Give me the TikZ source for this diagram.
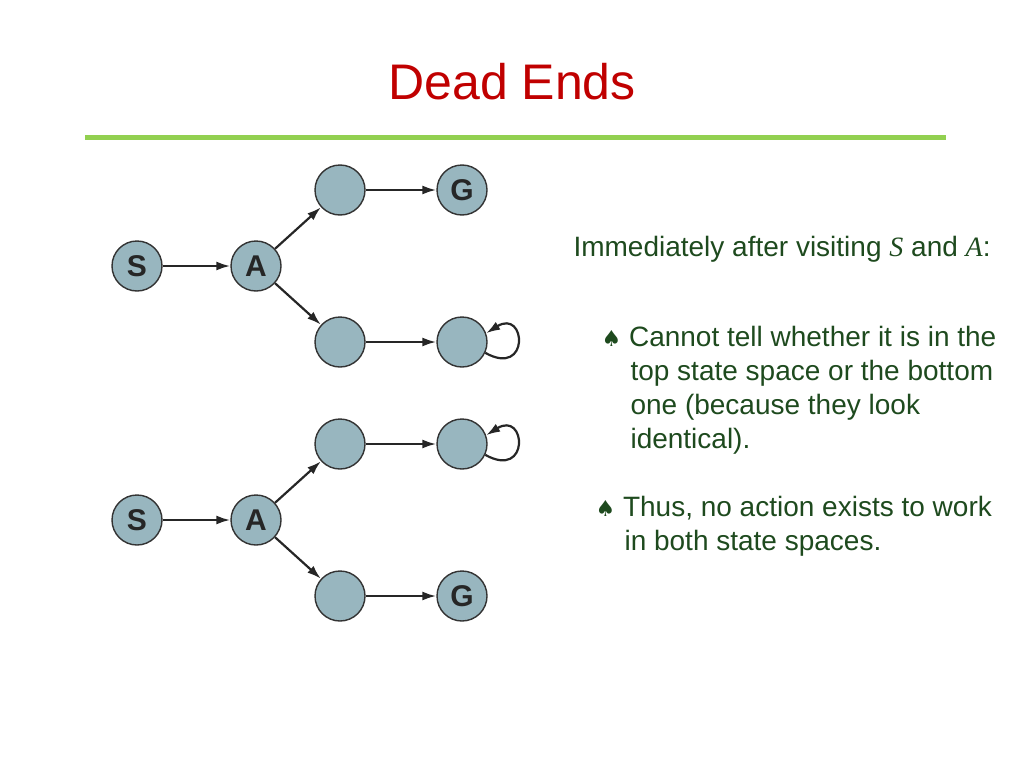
\documentclass[tikz,border=0pt]{standalone}
\usepackage{fontspec}
\setmainfont{Liberation Sans}
\newfontfamily\symf{DejaVu Sans}
\usetikzlibrary{arrows.meta}
\definecolor{nodefill}{HTML}{98B6BF}
\definecolor{txtgreen}{HTML}{1E4A1E}
\definecolor{titlered}{HTML}{C00000}
\definecolor{linegreen}{HTML}{92D050}
\begin{document}
\begin{tikzpicture}[x=1pt,y=-1pt,
  st/.style={circle,draw=black!80,line width=1.4pt,fill=nodefill,minimum size=50pt,inner sep=0pt,font=\fontsize{30}{30}\selectfont\bfseries,text=black!85},
  edge/.style={-{Latex[length=14pt,width=9pt]},line width=2.2pt,black!85},
  txt/.style={anchor=west,text=txtgreen,font=\fontsize{28}{34}\selectfont,align=left}]
\useasboundingbox (0,0) rectangle (1024,768);
\node[text=titlered,font=\fontsize{50}{50}\selectfont] (title) at (512,82) {Dead Ends};
\draw[linegreen,line width=5pt] (85,137) -- (946,137);
\foreach \o/\p in {0/a,254/b}{
  \node[st] (S\p) at (137,266+\o) {S};
  \node[st] (A\p) at (256,266+\o) {A};
  \node[st] (T\p) at (340,190+\o) {};
  \node[st] (B\p) at (340,342+\o) {};
  \node[st] (TT\p) at (462,190+\o) {};
  \node[st] (BB\p) at (462,342+\o) {};
  \draw[edge] (S\p) -- (A\p);
  \draw[edge] (A\p) -- (T\p);
  \draw[edge] (A\p) -- (B\p);
  \draw[edge] (T\p) -- (TT\p);
  \draw[edge] (B\p) -- (BB\p);
}
\node[font=\fontsize{30}{30}\selectfont\bfseries,text=black!85] (ga) at (TTa) {G};
\node[font=\fontsize{30}{30}\selectfont\bfseries,text=black!85] (gb) at (BBb) {G};
\draw[edge] (BBa.-25) .. controls +(45,25) and +(40,-25) .. (BBa.20);
\draw[edge] (TTb.-25) .. controls +(45,25) and +(40,-25) .. (TTb.20);
\node[txt] (t1) at (570,249) {Immediately after visiting {\fontspec{Liberation Serif}\itshape S} and {\fontspec{Liberation Serif}\itshape A}:};
\node[txt,anchor=north west] (t2) at (598,323) {{\symf\fontsize{22}{34}\selectfont ♠} Cannot tell whether it is in the\\
\hspace*{29pt}top state space or the bottom\\
\hspace*{29pt}one (because they look\\
\hspace*{29pt}identical).};
\node[txt,anchor=north west] (t3) at (592,493) {{\symf\fontsize{22}{34}\selectfont ♠} Thus, no action exists to work\\
\hspace*{29pt}in both state spaces.};
\end{tikzpicture}
\end{document}
